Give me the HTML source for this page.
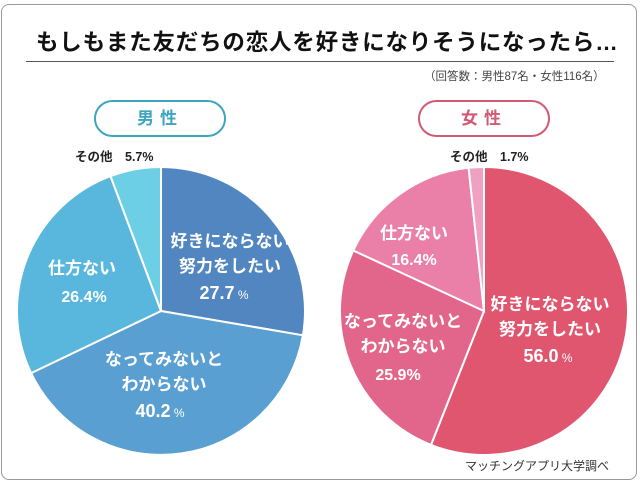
<!DOCTYPE html>
<html><head><meta charset="utf-8"><style>
body{margin:0;width:640px;height:485px;background:#fff;font-family:"Liberation Sans","Noto Sans CJK JP",sans-serif;position:relative;overflow:hidden}
.frame{position:absolute;left:1px;top:4px;width:636px;height:476px;border:1px solid #999;border-radius:8px;box-sizing:border-box}
.t{position:absolute;white-space:nowrap}
</style></head><body>
<div class="frame"></div>
<div class="t" style="left:36px;top:25px;font-size:22.5px;font-weight:bold;color:#111;letter-spacing:0.8px">もしもまた友だちの恋人を好きになりそうになったら…</div>
<div style="position:absolute;left:26px;top:61px;width:588px;height:1px;background:#555"></div>
<div class="t" style="left:424px;top:68px;font-size:11.5px;color:#444">（回答数：男性87名・女性116名）</div>
<div style="position:absolute;left:94px;top:100px;width:132px;height:37px;border:2px solid #3fa4be;border-radius:20px;box-sizing:border-box;color:#3fa4be;font-size:17px;font-weight:bold;text-align:center;line-height:33px;letter-spacing:6px">男性</div>
<div style="position:absolute;left:418px;top:100px;width:132px;height:37px;border:2px solid #d15a74;border-radius:20px;box-sizing:border-box;color:#d15a74;font-size:17px;font-weight:bold;text-align:center;line-height:33px;letter-spacing:6px">女性</div>
<svg width="640" height="485" style="position:absolute;left:0;top:0" font-family="Liberation Sans, Noto Sans CJK JP, sans-serif">
<g stroke="#fff" stroke-width="2">
<path d="M161,311 L161,167 A144,144 0 0 1 302.9,335.3 Z" fill="#5186c0"/>
<path d="M161,311 L302.9,335.3 A144,144 0 0 1 31.1,373.1 Z" fill="#5a9fd1"/>
<path d="M161,311 L31.1,373.1 A144,144 0 0 1 110.5,176.1 Z" fill="#59b7de"/>
<path d="M161,311 L110.5,176.1 A144,144 0 0 1 161,167 Z" fill="#6dcfe6"/>
<path d="M484,311 L484,167 A144,144 0 1 1 431,444.9 Z" fill="#e0566f"/>
<path d="M484,311 L431,444.9 A144,144 0 0 1 353.3,250.5 Z" fill="#e2668b"/>
<path d="M484,311 L353.3,250.5 A144,144 0 0 1 468.6,167.8 Z" fill="#ea80a7"/>
<path d="M484,311 L468.6,167.8 A144,144 0 0 1 484,167 Z" fill="#f0a1c1"/>
</g>
<g fill="#fff" font-weight="bold" text-anchor="middle">
<text x="230" y="247" font-size="17">好きにならない</text>
<text x="230" y="272" font-size="17">努力をしたい</text>
<text x="224" y="299" font-size="18">27.7<tspan font-size="12" font-weight="normal"> %</tspan></text>
<text x="82" y="274" font-size="17">仕方ない</text>
<text x="84" y="302" font-size="16">26.4%</text>
<text x="164" y="365" font-size="17">なってみないと</text>
<text x="164" y="390" font-size="17">わからない</text>
<text x="160" y="417" font-size="18">40.2<tspan font-size="12" font-weight="normal"> %</tspan></text>
<text x="550" y="310" font-size="17">好きにならない</text>
<text x="550" y="335" font-size="17">努力をしたい</text>
<text x="548" y="362" font-size="18">56.0<tspan font-size="12" font-weight="normal"> %</tspan></text>
<text x="403" y="327" font-size="17">なってみないと</text>
<text x="403" y="352" font-size="17">わからない</text>
<text x="398" y="380" font-size="16">25.9%</text>
<text x="414" y="239" font-size="17">仕方ない</text>
<text x="414" y="265" font-size="16">16.4%</text>
</g>
<g fill="#222" font-weight="bold" font-size="12.5">
<text x="75" y="161">その他　5.7%</text>
<text x="450" y="161">その他　1.7%</text>
</g>
<text x="465" y="470" font-size="12" fill="#333">マッチングアプリ大学調べ</text>
</svg>
</body></html>
